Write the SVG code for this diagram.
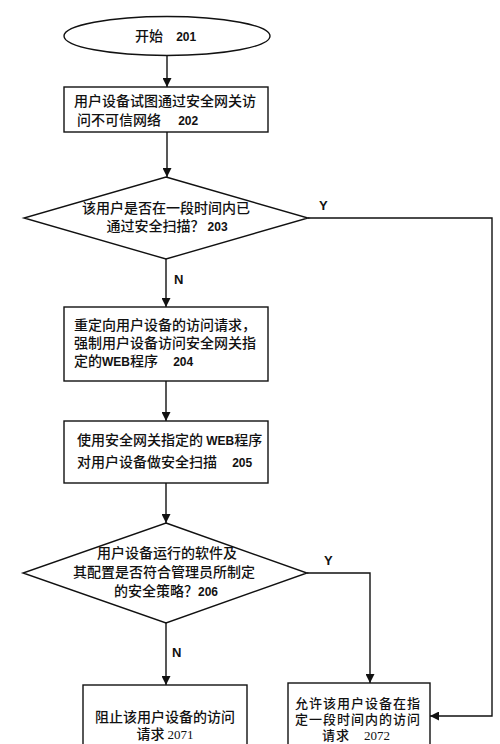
<svg xmlns="http://www.w3.org/2000/svg" width="500" height="744" viewBox="0 0 500 744">
<style>
.s{fill:#fff;stroke:#111;stroke-width:1.4}
.t{font-family:"Noto Sans CJK SC","Noto Sans",sans-serif;font-size:14px;fill:#111;font-weight:500}
.u{font-size:13px;letter-spacing:1px}
.n{font-family:"Liberation Sans",Arial,sans-serif;font-weight:bold;font-size:12px;letter-spacing:0}
.r{font-family:"Liberation Serif","Times New Roman",serif;font-size:13px;letter-spacing:0}
.l{font-family:"Liberation Sans",Arial,sans-serif;font-weight:bold;font-size:13px;fill:#111}
.c{fill:none;stroke:#111;stroke-width:1.4}
</style>
<defs>
<marker id="a" viewBox="0 0 10 10" refX="10" refY="5" markerWidth="9" markerHeight="9" markerUnits="userSpaceOnUse" orient="auto"><path d="M0,0 L10,5 L0,10 z" fill="#111"/></marker>
</defs>
<rect width="500" height="744" fill="#fff"/>
<g id="connectors">
<line class="c" x1="167" y1="55" x2="167" y2="87" marker-end="url(#a)"/>
<line class="c" x1="167" y1="132" x2="167" y2="177" marker-end="url(#a)"/>
<line class="c" x1="166" y1="259" x2="166" y2="307" marker-end="url(#a)"/>
<line class="c" x1="166" y1="381" x2="166" y2="421" marker-end="url(#a)"/>
<line class="c" x1="166" y1="483" x2="166" y2="523" marker-end="url(#a)"/>
<line class="c" x1="166" y1="623" x2="166" y2="685" marker-end="url(#a)"/>
<polyline class="c" points="307,573 370,573 370,683" marker-end="url(#a)"/>
<polyline class="c" points="308,218 492,218 492,716 430,716" stroke="#444" stroke-width="1.1" marker-end="url(#a)"/>
<text class="l" x="319" y="210">Y</text>
<text class="l" x="174" y="284">N</text>
<text class="l" x="324" y="565">Y</text>
<text class="l" x="172" y="657">N</text>
</g>
<g id="n201">
<ellipse class="s" cx="167" cy="36" rx="103" ry="19.5"/>
<text class="t" x="135" y="41">开始 <tspan class="n" dx="10">201</tspan></text>
</g>
<g id="n202">
<rect class="s" x="64" y="87" width="204" height="45"/>
<text class="t" x="74" y="106">用户设备试图通过安全网关访</text>
<text class="t" x="77" y="125">问不可信网络 <tspan class="n" dx="14">202</tspan></text>
</g>
<g id="n203">
<polygon class="s" points="166,177 308,218 166,259 24,218"/>
<text class="t" x="166" y="213" text-anchor="middle">该用户是否在一段时间内已</text>
<text class="t" x="167" y="231" text-anchor="middle">通过安全扫描？ <tspan class="n">203</tspan></text>
</g>
<g id="n204">
<rect class="s" x="64" y="307" width="204" height="74"/>
<text class="t" x="74" y="330">重定向用户设备的访问请求，</text>
<text class="t" x="74" y="348">强制用户设备访问安全网关指</text>
<text class="t" x="74" y="366">定的<tspan class="n">WEB</tspan>程序 <tspan class="n" dx="12">204</tspan></text>
</g>
<g id="n205">
<rect class="s" x="64" y="421" width="204" height="62"/>
<text class="t" x="77" y="445">使用安全网关指定的 <tspan class="n">WEB</tspan>程序</text>
<text class="t" x="77" y="467">对用户设备做安全扫描 <tspan class="n" dx="12">205</tspan></text>
</g>
<g id="n206">
<polygon class="s" points="166,523 307,573 166,623 23,573"/>
<text class="t" x="167" y="558" text-anchor="middle">用户设备运行的软件及</text>
<text class="t" x="164" y="577" text-anchor="middle">其配置是否符合管理员所制定</text>
<text class="t" x="166" y="596" text-anchor="middle">的安全策略？<tspan class="n">206</tspan></text>
</g>
<g id="n2071">
<rect class="s" x="83" y="685" width="164" height="70"/>
<text class="t" x="165" y="722" text-anchor="middle">阻止该用户设备的访问</text>
<text class="t" x="165" y="739" text-anchor="middle">请求 <tspan class="r">2071</tspan></text>
</g>
<g id="n2072">
<rect class="s" x="288" y="683" width="142" height="70"/>
<text class="t u" x="295" y="708">允许该用户设备在指</text>
<text class="t u" x="295" y="724">定一段时间内的访问</text>
<text class="t u" x="322" y="740">请求 <tspan class="r" dx="10">2072</tspan></text>
</g>
</svg>
